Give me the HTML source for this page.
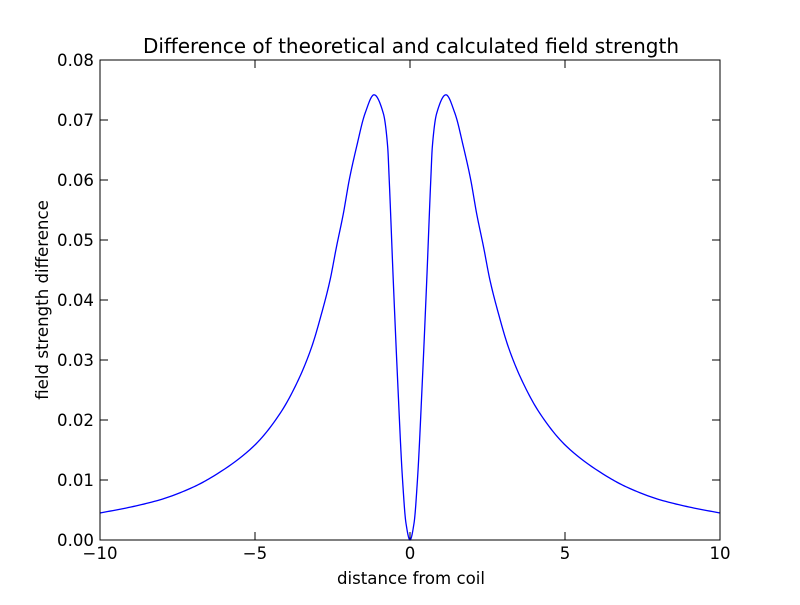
<!DOCTYPE html>
<html><head><meta charset="utf-8"><style>
body{margin:0;background:#fff}
svg text{font-family:"DejaVu Sans","Liberation Sans",sans-serif}
</style></head><body>
<svg id="chart" width="800" height="600">
<rect width="800" height="600" fill="#fff"/>
<text x="411" y="53" font-size="20" text-anchor="middle">Difference of theoretical and calculated field strength</text>
<text x="411" y="584" font-size="16.6" text-anchor="middle">distance from coil</text>
<text transform="translate(48,300) rotate(-90)" font-size="16.6" text-anchor="middle">field strength difference</text>
<g id="ticks"></g>
<path id="line" fill="none" stroke="#0000ff" stroke-width="1.3"/>
<rect x="100" y="60" width="620" height="480" fill="none" stroke="#000" stroke-width="1"/>
</svg>
<script>
const xVals=[-10,-9,-8,-7,-6.45,-5.05,-4.19,-3.6,-3.17,-2.85,-2.58,-2.37,-2.15,-1.96,-1.72,-1.45,-1.16,-0.86,-0.72,-0.67,-0.54,-0.4,-0.24,-0.13,0,0.13,0.24,0.4,0.54,0.67,0.72,0.86,1.16,1.45,1.72,1.96,2.15,2.37,2.58,2.85,3.17,3.6,4.19,5.05,6.45,7,8,9,10];
const yVals=[0.0045,0.0055,0.0068,0.0088,0.0103,0.0156,0.0211,0.0267,0.0322,0.0378,0.0433,0.0489,0.0544,0.060,0.0656,0.0711,0.0742,0.0711,0.0655,0.060,0.0433,0.0267,0.010,0.0028,0,0.0028,0.010,0.0267,0.0433,0.060,0.0655,0.0711,0.0742,0.0711,0.0656,0.060,0.0544,0.0489,0.0433,0.0378,0.0322,0.0267,0.0211,0.0156,0.0103,0.0088,0.0068,0.0055,0.0045];
const xTicks=[-10,-5,0,5,10];
const xTickLabels=["\u221210","\u22125","0","5","10"];
const yTicks=[0,0.01,0.02,0.03,0.04,0.05,0.06,0.07,0.08];
const yTickLabels=["0.00","0.01","0.02","0.03","0.04","0.05","0.06","0.07","0.08"];
const X=v=>100+(v+10)/20*620, Y=v=>540-v/0.08*480;
const NS="http://www.w3.org/2000/svg";
const g=document.getElementById('ticks');
function mk(t,a,p){const e=document.createElementNS(NS,t);for(const k in a)e.setAttribute(k,a[k]);p.appendChild(e);return e;}
xTicks.forEach((v,i)=>{const x=X(v);
 const t1=mk('line',{x1:x,x2:x,y1:540,y2:532,stroke:'#000'},g);
 
 
 mk('line',{x1:x,x2:x,y1:60,y2:68,stroke:'#000'},g);
 const l=mk('text',{x:x,y:559,'font-size':16.6,'text-anchor':'middle'},g);l.textContent=xTickLabels[i];
 
 
});
yTicks.forEach((v,i)=>{const y=Y(v);
 const t1=mk('line',{x1:100,x2:108,y1:y,y2:y,stroke:'#000'},g);
 
 
 mk('line',{x1:712,x2:720,y1:y,y2:y,stroke:'#000'},g);
 const l=mk('text',{x:94,y:y+6,'font-size':16.6,'text-anchor':'end'},g);l.textContent=yTickLabels[i];
 
 
});
const n=xVals.length, dx=[], sl=[], m=[];
for(let i=0;i<n-1;i++){dx[i]=xVals[i+1]-xVals[i];sl[i]=(yVals[i+1]-yVals[i])/dx[i];}
m[0]=sl[0];m[n-1]=sl[n-2];
for(let i=1;i<n-1;i++){if(sl[i-1]*sl[i]<=0)m[i]=0;else{const w1=2*dx[i]+dx[i-1],w2=dx[i]+2*dx[i-1];m[i]=(w1+w2)/(w1/sl[i-1]+w2/sl[i]);}}
let d='';
for(let i=0;i<n-1;i++){
 const steps=12;
 for(let k=(i===0?0:1);k<=steps;k++){const t=k/steps,h=dx[i],t2=t*t,t3=t2*t;
  const y=(2*t3-3*t2+1)*yVals[i]+(t3-2*t2+t)*h*m[i]+(-2*t3+3*t2)*yVals[i+1]+(t3-t2)*h*m[i+1];
  const x=xVals[i]+t*h;
  d+=(d?' L':'M')+X(x).toFixed(2)+','+Y(y).toFixed(2);}
}
document.getElementById('line').setAttribute('d',d);
</script>
</body></html>
